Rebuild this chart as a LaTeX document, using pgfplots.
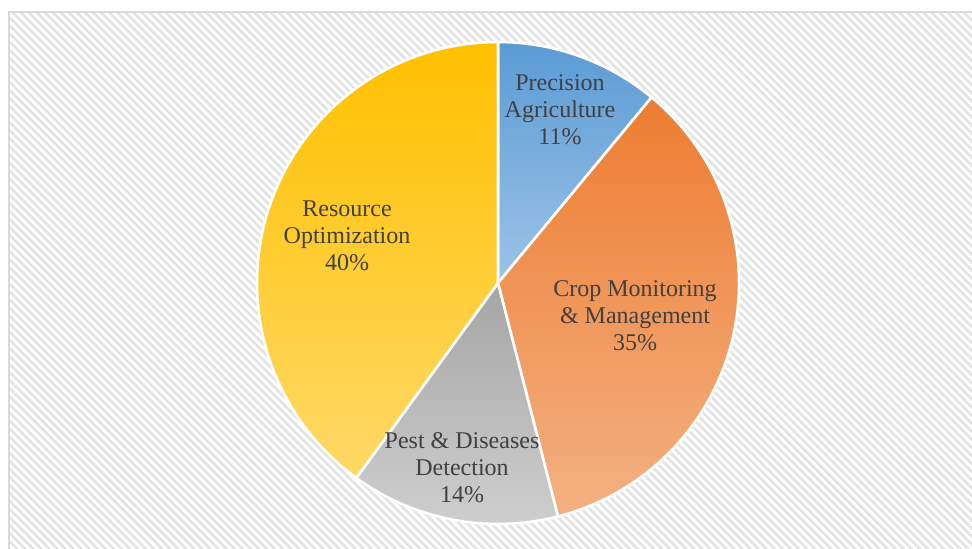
\documentclass[border=0pt]{standalone}
\usepackage{pgfplots}
\pgfplotsset{compat=1.18}
\usepackage{pgfplotstable}
\usepackage{fontspec}
\setmainfont{Liberation Serif}
\usetikzlibrary{patterns.meta}

\definecolor{txt}{HTML}{404040}
\definecolor{c1top}{HTML}{5B9BD5}\definecolor{c1bot}{HTML}{9DC3E6}
\definecolor{c2top}{HTML}{ED7D31}\definecolor{c2bot}{HTML}{F4B183}
\definecolor{c3top}{HTML}{A5A5A5}\definecolor{c3bot}{HTML}{D0D0D0}
\definecolor{c4top}{HTML}{FFC000}\definecolor{c4bot}{HTML}{FFD966}
\definecolor{frame}{HTML}{D9D9D9}
\definecolor{hatch}{HTML}{E3E3E3}

\pgfplotstableread{
idx value
1 11
2 35
3 14
4 40
}\piedata

% cumulative angles (clockwise from 12 o'clock)
\pgfplotstablegetelem{0}{value}\of\piedata \let\vA\pgfplotsretval
\pgfplotstablegetelem{1}{value}\of\piedata \let\vB\pgfplotsretval
\pgfplotstablegetelem{2}{value}\of\piedata \let\vC\pgfplotsretval
\pgfplotstablegetelem{3}{value}\of\piedata \let\vD\pgfplotsretval
\pgfmathsetmacro\aZ{90}
\pgfmathsetmacro\aA{90-3.6*\vA}
\pgfmathsetmacro\aB{\aA-3.6*\vB}
\pgfmathsetmacro\aC{\aB-3.6*\vC}
\pgfmathsetmacro\aD{\aC-3.6*\vD}

\newcommand{\slice}[4]{%
  \shade[top color=#3, bottom color=#4, draw=white, line width=1.3pt, line join=round]
    (axis cs:498,265) -- ++(#1:120.5pt) arc[start angle=#1, end angle=#2, radius=120.5pt] -- cycle;}

\begin{document}
\begin{tikzpicture}
\begin{axis}[
  scale only axis, width=486pt, height=274pt,
  xmin=0, xmax=972, ymin=0, ymax=548,
  hide axis, clip=true,
]
\addplot[draw=none] coordinates {(0,0) (972,548)};
\fill[white] (axis cs:0,0) rectangle (axis cs:972,548);
\fill[pattern={Lines[angle=-45,distance=2.85pt,line width=1.3pt]}, pattern color=hatch]
  (axis cs:9,-10) rectangle (axis cs:990,536);
\draw[frame, line width=0.8pt] (axis cs:9,-10) rectangle (axis cs:990,536);

\slice{\aA}{\aZ}{c1top}{c1bot}
\slice{\aB}{\aA}{c2top}{c2bot}
\slice{\aC}{\aB}{c3top}{c3bot}
\slice{\aD}{\aC}{c4top}{c4bot}

\begin{scope}[every node/.style={align=center, text=txt, font=\fontsize{12}{13.5}\selectfont}]
\node at (axis cs:560,438) {Precision\\Agriculture\\11\%};
\node at (axis cs:635,232) {Crop Monitoring\\\& Management\\35\%};
\node at (axis cs:462,80) {Pest \& Diseases\\Detection\\14\%};
\node at (axis cs:347,312) {Resource\\Optimization\\40\%};
\end{scope}
\end{axis}
\end{tikzpicture}
\end{document}
